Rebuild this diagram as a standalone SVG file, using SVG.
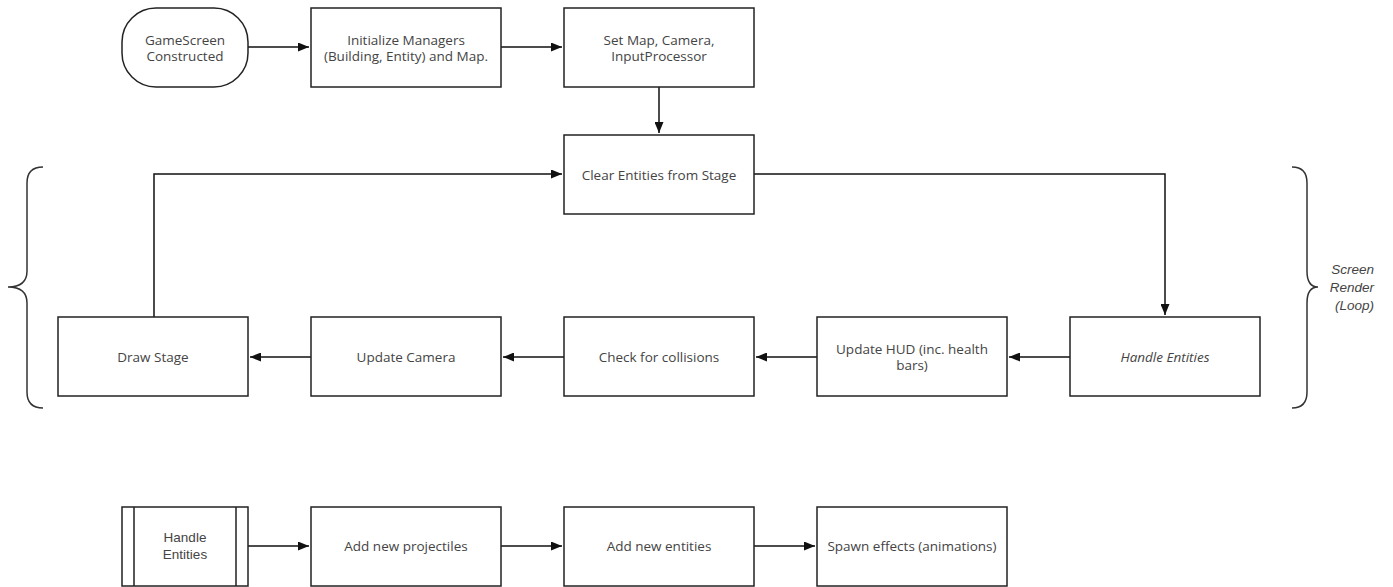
<svg xmlns="http://www.w3.org/2000/svg" width="1393" height="587" viewBox="0 0 1393 587">
<defs>
<marker id="ah" viewBox="0 0 11 9" refX="11" refY="4.5" markerWidth="11" markerHeight="9" markerUnits="userSpaceOnUse" orient="auto">
<path d="M0,0 L11,4.5 L0,9 z" fill="#111"/>
</marker>
</defs>
<style>
.box{fill:#fff;stroke:#222;stroke-width:1.5}
.t{font-family:"Open Sans","DejaVu Sans",sans-serif;font-size:13.5px;fill:#444;text-anchor:middle}
.a{font-family:"Liberation Sans",Arial,sans-serif;font-size:13.5px;fill:#444;text-anchor:middle}
.c{fill:none;stroke:#111;stroke-width:1.5}
.br{fill:none;stroke:#333;stroke-width:1.5}
</style>
<rect width="1393" height="587" fill="#fff"/>
<g id="connectors">
<path class="c" d="M248,47 H309" marker-end="url(#ah)"/>
<path class="c" d="M501,47 H562" marker-end="url(#ah)"/>
<path class="c" d="M659,87 V133" marker-end="url(#ah)"/>
<path class="c" d="M754,174 H1165 V315" marker-end="url(#ah)"/>
<path class="c" d="M1070,357 H1009" marker-end="url(#ah)"/>
<path class="c" d="M817,357 H756" marker-end="url(#ah)"/>
<path class="c" d="M564,357 H503" marker-end="url(#ah)"/>
<path class="c" d="M311,357 H250" marker-end="url(#ah)"/>
<path class="c" d="M154,317 V174 H562" marker-end="url(#ah)"/>
<path class="c" d="M248,546 H309" marker-end="url(#ah)"/>
<path class="c" d="M501,546 H562" marker-end="url(#ah)"/>
<path class="c" d="M754,546 H815" marker-end="url(#ah)"/>
</g>
<g id="n-gamescreen">
<rect class="box" x="122" y="8" width="126" height="79" rx="34" ry="34"/>
<text class="t" x="185" y="45">GameScreen</text>
<text class="t" x="185" y="61">Constructed</text>
</g>
<g id="n-init">
<rect class="box" x="311" y="8" width="190" height="79"/>
<text class="t" x="406" y="45">Initialize Managers</text>
<text class="t" x="406" y="61">(Building, Entity) and Map.</text>
</g>
<g id="n-setmap">
<rect class="box" x="564" y="8" width="190" height="79"/>
<text class="t" x="659" y="45">Set Map, Camera,</text>
<text class="t" x="659" y="61">InputProcessor</text>
</g>
<g id="n-clear">
<rect class="box" x="564" y="135" width="190" height="79"/>
<text class="t" x="659" y="180">Clear Entities from Stage</text>
</g>
<g id="n-handle">
<rect class="box" x="1070" y="317" width="190" height="79"/>
<text class="t" x="1165" y="362" font-style="italic">Handle Entities</text>
</g>
<g id="n-hud">
<rect class="box" x="817" y="317" width="190" height="79"/>
<text class="t" x="912" y="354">Update HUD (inc. health</text>
<text class="t" x="912" y="370">bars)</text>
</g>
<g id="n-collisions">
<rect class="box" x="564" y="317" width="190" height="79"/>
<text class="t" x="659" y="362">Check for collisions</text>
</g>
<g id="n-camera">
<rect class="box" x="311" y="317" width="190" height="79"/>
<text class="t" x="406" y="362">Update Camera</text>
</g>
<g id="n-draw">
<rect class="box" x="58" y="317" width="190" height="79"/>
<text class="t" x="153" y="362">Draw Stage</text>
</g>
<g id="brace-left">
<path class="br" d="M43,167 Q27,167 27,183 V271 Q27,287 8,287 Q27,287 27,303 V392 Q27,408 43,408"/>
</g>
<g id="brace-right">
<path class="br" d="M1292,167 Q1307,167 1307,183 V271 Q1307,287 1318,287 Q1307,287 1307,303 V392 Q1307,408 1292,408"/>
<text class="a" x="1374" y="274" font-style="italic" style="text-anchor:end">Screen</text>
<text class="a" x="1374" y="292" font-style="italic" style="text-anchor:end">Render</text>
<text class="a" x="1374" y="310" font-style="italic" style="text-anchor:end">(Loop)</text>
</g>
<g id="n-sub-handle">
<rect class="box" x="122" y="507" width="126" height="79"/>
<path class="box" d="M134,507 V586 M236,507 V586"/>
<text class="a" x="185" y="542">Handle</text>
<text class="a" x="185" y="559">Entities</text>
</g>
<g id="n-projectiles">
<rect class="box" x="311" y="507" width="190" height="79"/>
<text class="t" x="406" y="551">Add new projectiles</text>
</g>
<g id="n-entities">
<rect class="box" x="564" y="507" width="190" height="79"/>
<text class="t" x="659" y="551">Add new entities</text>
</g>
<g id="n-spawn">
<rect class="box" x="817" y="507" width="190" height="79"/>
<text class="t" x="912" y="551">Spawn effects (animations)</text>
</g>
</svg>
